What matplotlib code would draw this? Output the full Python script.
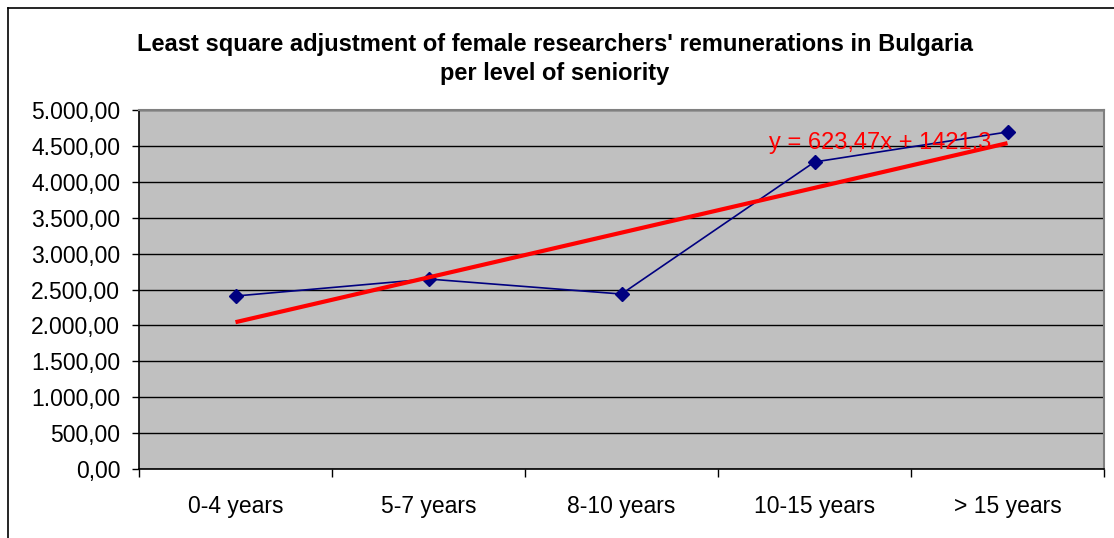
import matplotlib.pyplot as plt
from matplotlib.lines import Line2D
from matplotlib.ticker import FuncFormatter, FixedLocator

categories = ["0-4 years", "5-7 years", "8-10 years", "10-15 years", "> 15 years"]
remunerations = [2409, 2646, 2437, 4276, 4694]
trend_slope = 623.47
trend_intercept = 1421.3
trend_label = "y = 623,47x + 1421,3"


def bg_number(v, pos=None):
    # 1234.5 -> "1.234,50"
    s = f"{v:,.2f}"
    return s.replace(",", "X").replace(".", ",").replace("X", ".")


plt.rcParams['font.family'] = ['Liberation Sans', 'DejaVu Sans']

fig = plt.figure(figsize=(11.14, 5.38), dpi=100)
ax = fig.add_axes([139 / 1114, 69 / 538, 965 / 1114, 359 / 538])
ax.set_facecolor('#c0c0c0')

x = list(range(1, len(categories) + 1))
trend = [trend_slope * i + trend_intercept for i in x]

ax.plot(x, remunerations, color='#000080', lw=1.2, marker='D', markersize=7,
        zorder=3)
ax.plot(x, trend, color='#ff0000', lw=3, zorder=4, solid_capstyle='butt')
ax.text(4.34, 4545, trend_label, color='#ff0000', fontsize=17,
        ha='center', va='center', zorder=5)

ax.set_xlim(0.5, len(categories) + 0.5)
ax.set_ylim(0, 5000)
ax.set_xticks(x)
ax.set_xticklabels(categories, fontsize=16.5)
ax.xaxis.set_minor_locator(FixedLocator([i + 0.5 for i in range(len(categories) + 1)]))
ax.tick_params(axis='x', which='major', length=0, pad=19)
ax.tick_params(axis='x', which='minor', length=6, width=1, color='black')
ax.set_yticks(range(0, 5001, 500))
ax.yaxis.set_major_formatter(FuncFormatter(bg_number))
ax.tick_params(axis='y', labelsize=16.5, length=5, width=1, pad=8.5)

ax.grid(axis='y', color='black', lw=1)
ax.set_axisbelow(True)

for side in ('left', 'bottom'):
    ax.spines[side].set_color('black')
    ax.spines[side].set_linewidth(1.2)
for side in ('top', 'right'):
    ax.spines[side].set_color('#808080')
    ax.spines[side].set_linewidth(1.5)

fig.text(0.498, 0.918, "Least square adjustment of female researchers' remunerations in Bulgaria",
         fontsize=17, fontweight='bold', ha='center', va='center')
fig.text(0.498, 0.864, "per level of seniority",
         fontsize=17, fontweight='bold', ha='center', va='center')

# outer chart frame
fx = 7.5 / 1114
fy = 1 - 7.5 / 538
fig.add_artist(Line2D([fx, fx], [0, fy], transform=fig.transFigure, color='black', lw=1.2))
fig.add_artist(Line2D([fx, 1], [fy, fy], transform=fig.transFigure, color='black', lw=1.2))

fig.savefig('out.png', dpi=100)
